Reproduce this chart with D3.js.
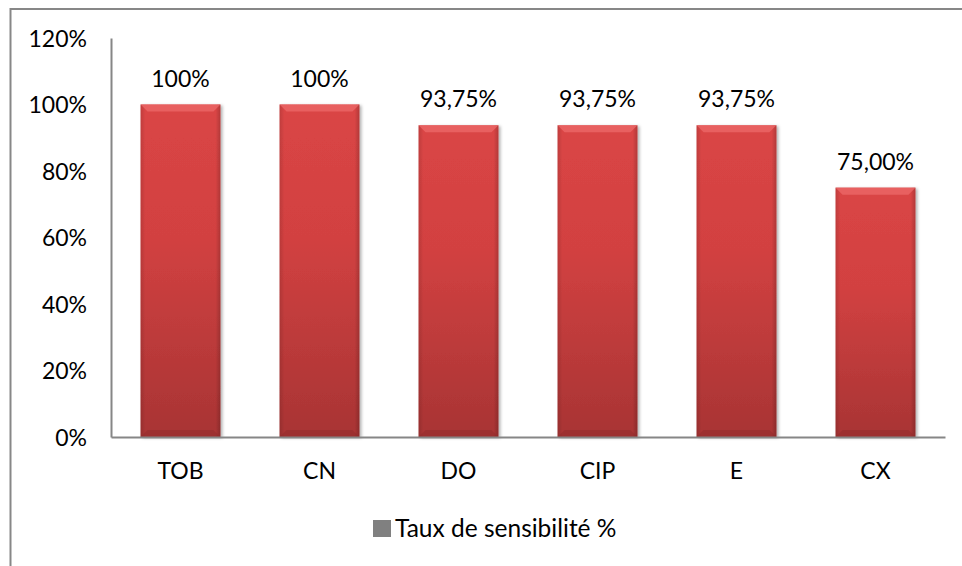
<!DOCTYPE html>
<html>
<head>
<meta charset="utf-8">
<script src="https://cdn.jsdelivr.net/npm/d3@7"></script>
<style>
  body { margin: 0; background: #fff; }
  svg text { font-family: Lato, "Open Sans", sans-serif; fill: #000; }
</style>
</head>
<body>
<script>
// data
var categories = ["TOB", "CN", "DO", "CIP", "E", "CX"];
var values = [100, 100, 93.75, 93.75, 93.75, 75];
var valueLabels = ["100%", "100%", "93,75%", "93,75%", "93,75%", "75,00%"];
var yTicks = [0, 20, 40, 60, 80, 100, 120];
var seriesName = "Taux de sensibilité %";

var W = 962, H = 566;
var margin = {top: 38, right: 17, bottom: 129, left: 111},
    width = W - margin.left - margin.right,
    height = H - margin.top - margin.bottom;

var root = d3.select("body").append("svg")
    .attr("width", W)
    .attr("height", H);

var defs = root.append("defs");

// vertical shading of the bars
var grad = defs.append("linearGradient")
    .attr("id", "barGrad")
    .attr("x1", 0).attr("y1", 0).attr("x2", 0).attr("y2", 1);
grad.append("stop").attr("offset", "0%").attr("stop-color", "#da4545");
grad.append("stop").attr("offset", "40%").attr("stop-color", "#d24141");
grad.append("stop").attr("offset", "100%").attr("stop-color", "#a83434");

var side = defs.append("linearGradient")
    .attr("id", "sideGrad")
    .attr("x1", 0).attr("y1", 0).attr("x2", 1).attr("y2", 0);
side.append("stop").attr("offset", "0%").attr("stop-color", "#000").attr("stop-opacity", 0.12);
side.append("stop").attr("offset", "6%").attr("stop-color", "#000").attr("stop-opacity", 0);
side.append("stop").attr("offset", "94%").attr("stop-color", "#000").attr("stop-opacity", 0);
side.append("stop").attr("offset", "100%").attr("stop-color", "#000").attr("stop-opacity", 0.18);

var shadow = defs.append("filter")
    .attr("id", "shadow")
    .attr("x", "-20%").attr("y", "-5%").attr("width", "140%").attr("height", "110%");
shadow.append("feDropShadow")
    .attr("dx", 2).attr("dy", 1)
    .attr("stdDeviation", 1.8)
    .attr("flood-color", "#000")
    .attr("flood-opacity", 0.3);

// outer chart border (runs off the right and bottom)
root.append("rect")
    .attr("x", 10.5).attr("y", 9)
    .attr("width", W + 20).attr("height", H + 20)
    .attr("fill", "none")
    .attr("stroke", "#878787")
    .attr("stroke-width", 2);

var svg = root.append("g")
    .attr("transform", "translate(" + margin.left + "," + margin.top + ")");

var x = d3.scaleBand()
    .domain(categories)
    .range([0, width])
    .paddingInner(0.425)
    .paddingOuter(0.2125);

var y = d3.scaleLinear()
    .domain([0, 120])
    .range([height, 0]);

// bars
var bars = svg.append("g")
    .selectAll("g")
    .data(categories)
    .enter().append("g")
    .attr("transform", function(d) { return "translate(" + x(d) + ",0)"; });

bars.append("rect")
    .attr("x", 0)
    .attr("y", function(d, i) { return y(values[i]); })
    .attr("width", x.bandwidth())
    .attr("height", function(d, i) { return height - y(values[i]); })
    .attr("fill", "url(#barGrad)")
    .attr("filter", "url(#shadow)");

bars.append("rect")
    .attr("x", 0)
    .attr("y", function(d, i) { return y(values[i]); })
    .attr("width", x.bandwidth())
    .attr("height", function(d, i) { return height - y(values[i]); })
    .attr("fill", "url(#sideGrad)");

// top bevel
var bev = 7;
bars.append("path")
    .attr("d", function(d, i) {
        var t = y(values[i]), w = x.bandwidth();
        return "M0," + t + "L" + w + "," + t + "L" + (w - bev) + "," + (t + bev) + "L" + bev + "," + (t + bev) + "Z";
    })
    .attr("fill", "#ec6a6a")
    .attr("opacity", 0.75);

// bottom bevel
bars.append("path")
    .attr("d", function(d, i) {
        var b = height, w = x.bandwidth();
        return "M0," + b + "L" + w + "," + b + "L" + (w - bev) + "," + (b - bev) + "L" + bev + "," + (b - bev) + "Z";
    })
    .attr("fill", "#8f2a2a")
    .attr("opacity", 0.45);

// value labels
svg.selectAll(".val")
    .data(categories)
    .enter().append("text")
    .attr("class", "val")
    .attr("x", function(d) { return x(d) + x.bandwidth() / 2; })
    .attr("y", function(d, i) { return y(values[i]) - 18; })
    .attr("text-anchor", "middle")
    .attr("font-size", "23px")
    .text(function(d, i) { return valueLabels[i]; });

// y axis
var yAxis = svg.append("g")
    .call(d3.axisLeft(y).tickValues(yTicks).tickSize(0).tickPadding(24)
        .tickFormat(function(d) { return d + "%"; }));
yAxis.select(".domain").attr("stroke", "#868686").attr("stroke-width", 2);
yAxis.selectAll("text")
    .attr("font-size", "23px")
    .attr("dy", "0.35em");

// x axis
var xAxis = svg.append("g")
    .attr("transform", "translate(0," + height + ")")
    .call(d3.axisBottom(x).tickSize(0).tickPadding(26));
xAxis.select(".domain").attr("stroke", "#868686").attr("stroke-width", 2);
xAxis.selectAll("text")
    .attr("font-size", "23px");

// legend
var legend = root.append("g")
    .attr("transform", "translate(373,520)");
legend.append("rect")
    .attr("width", 18)
    .attr("height", 17)
    .attr("fill", "#808080");
legend.append("text")
    .attr("x", 22)
    .attr("y", 17)
    .attr("font-size", "24.5px")
    .text(seriesName);
</script>
</body>
</html>
